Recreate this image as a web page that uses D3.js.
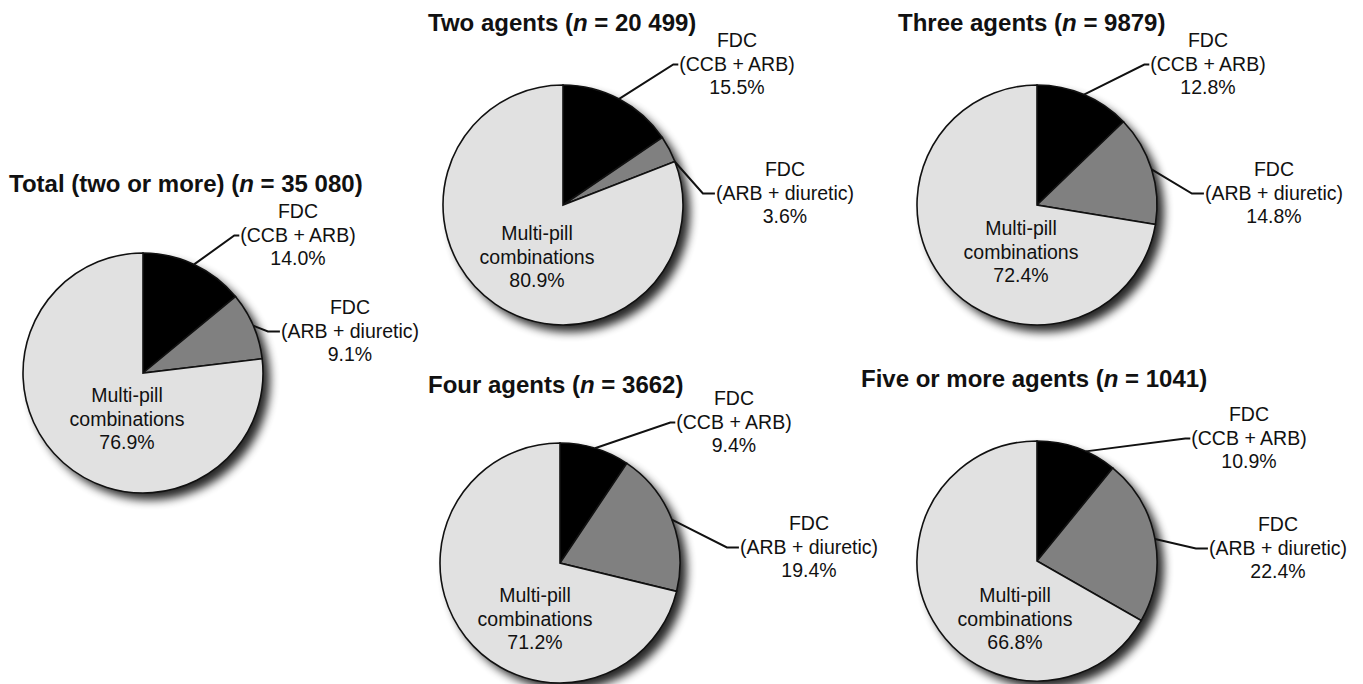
<!DOCTYPE html>
<meta charset="utf-8">
<style>
body { margin: 0; background: #fff; }
text { font-family: "Liberation Sans", Arial, sans-serif; fill: #111; }
.title { font-size: 24px; font-weight: bold; }
.lab { font-size: 19.5px; }
.slice { stroke: #111; stroke-width: 1.6px; }
.leader { fill: none; stroke: #111; stroke-width: 2px; }
</style>
<svg width="1363" height="684"></svg>
<script src="https://d3js.org/d3.v7.min.js"></script>
<script>

// data
var panels = ["Total (two or more)", "Two agents", "Three agents", "Four agents", "Five or more agents"];
var sampleSizes = ["35 080", "20 499", "9879", "3662", "1041"];
var categories = [["FDC", "(CCB + ARB)"], ["FDC", "(ARB + diuretic)"], ["Multi-pill", "combinations"]];
var ccbArb = [14.0, 15.5, 12.8, 9.4, 10.9];
var arbDiuretic = [9.1, 3.6, 14.8, 19.4, 22.4];
var multiPill = [76.9, 80.9, 72.4, 71.2, 66.8];

// layout of each panel: pie centre, title start, label anchors (centre x, first baseline),
// optional leader start angle (degrees from 12 o'clock) when it is not the slice middle
var layout = [
  {cx: 143, cy: 373, tx: 9,   ty: 192, lab: [[298, 218], [350, 314], [127, 402]], lead: [null, null]},
  {cx: 563, cy: 205, tx: 428, ty: 31,  lab: [[737, 47],  [785, 176], [537, 240]], lead: [null, 69]},
  {cx: 1037, cy: 205, tx: 898, ty: 31, lab: [[1208, 47], [1274, 176], [1021, 235]], lead: [null, null]},
  {cx: 560, cy: 563, tx: 428, ty: 393, lab: [[734, 405], [809, 530], [535, 602]], lead: [null, null]},
  {cx: 1037, cy: 561, tx: 861, ty: 387, lab: [[1249, 421], [1278, 531], [1015, 602]], lead: [24, null]}
];

var radius = 120,
    lineH = 23.5,
    hook = [5, 12];

var svg = d3.select("svg");

var defs = svg.append("defs");
var f = defs.append("filter").attr("id", "shadow")
    .attr("x", "-20%").attr("y", "-20%").attr("width", "160%").attr("height", "160%");
f.append("feGaussianBlur").attr("in", "SourceAlpha").attr("stdDeviation", 5);
f.append("feOffset").attr("dx", 7).attr("dy", 7).attr("result", "b");
f.append("feComponentTransfer").append("feFuncA").attr("type", "linear").attr("slope", 0.85);

var color = d3.scaleOrdinal().domain([0, 1, 2]).range(["#000000", "#808080", "#e1e1e1"]);
var fmt = d3.format(".1f");

var pie = d3.pie().sort(null).value(function(d) { return d; });
var arc = d3.arc().innerRadius(0).outerRadius(radius);
var edge = d3.arc().innerRadius(radius).outerRadius(radius);

panels.forEach(function(name, i) {
  var L = layout[i];
  var values = [ccbArb[i], arbDiuretic[i], multiPill[i]];
  var g = svg.append("g");

  var title = g.append("text").attr("class", "title")
      .attr("x", L.tx).attr("y", L.ty);
  title.append("tspan").text(name + " (");
  title.append("tspan").style("font-style", "italic").text("n");
  title.append("tspan").text(" = " + sampleSizes[i] + ")");

  var pg = g.append("g").attr("transform", "translate(" + L.cx + "," + L.cy + ")");
  pg.append("circle").attr("r", radius).attr("fill", "#000").attr("filter", "url(#shadow)");

  var arcs = pie(values);
  pg.selectAll("path.slice").data(arcs).enter().append("path")
      .attr("class", "slice")
      .attr("d", arc)
      .attr("fill", function(d, j) { return color(j); });

  arcs.forEach(function(d, j) {
    var a = L.lab[j];
    var t = g.append("text").attr("class", "lab").attr("text-anchor", "middle");
    var lines = categories[j].concat([fmt(d.data) + "%"]);
    lines.forEach(function(s, k) {
      t.append("tspan").attr("x", a[0]).attr("y", a[1] + k * lineH).text(s);
    });

    if (j < 2) {
      // leader from slice edge to the middle line of the label
      var mid = t.selectAll("tspan").nodes()[1];
      var w = mid.getComputedTextLength();
      var p = edge.centroid(d);
      if (L.lead[j] != null) {
        var ang = L.lead[j] * Math.PI / 180;
        p = [radius * Math.sin(ang), -radius * Math.cos(ang)];
      }
      var x0 = L.cx + p[0], y0 = L.cy + p[1];
      var xe = a[0] - w / 2 - 1, ye = a[1] + lineH - 6;
      g.append("path").attr("class", "leader")
          .attr("d", d3.line()([[x0, y0], [xe - hook[j], ye], [xe, ye]]));
    }
  });
});

</script>
